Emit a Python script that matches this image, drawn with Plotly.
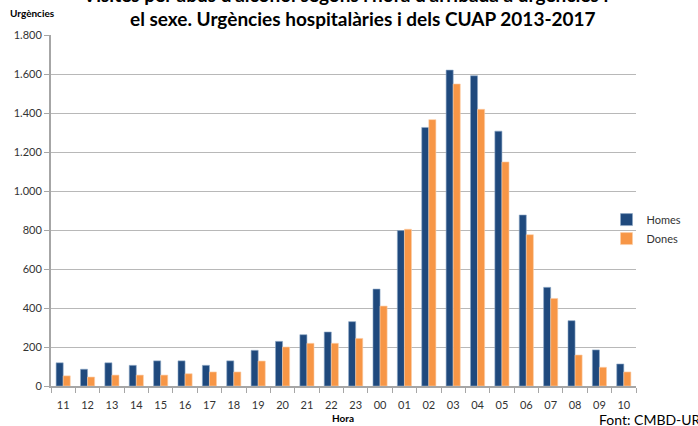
import plotly.graph_objects as go

hores = ["11", "12", "13", "14", "15", "16", "17", "18", "19", "20", "21", "22",
         "23", "00", "01", "02", "03", "04", "05", "06", "07", "08", "09", "10"]
homes = [119, 86, 119, 106, 129, 129, 106, 129, 183, 229, 263, 277,
         330, 497, 797, 1326, 1620, 1591, 1307, 877, 506, 335, 185, 113]
dones = [52, 46, 56, 56, 56, 63, 72, 72, 128, 200, 219, 219,
         244, 410, 804, 1366, 1549, 1419, 1149, 776, 449, 159, 96, 72]

font = "Lato, 'Open Sans', sans-serif"

fig = go.Figure()
fig.add_trace(go.Bar(x=hores, y=homes, name="Homes", marker=dict(color="#1F497D", line=dict(color="#8EA9C8", width=0.6))))
fig.add_trace(go.Bar(x=hores, y=dones, name="Dones", marker=dict(color="#F79646", line=dict(color="#FBCFA8", width=0.6))))

fig.update_layout(
    width=698, height=426,
    template="plotly_white",
    barmode="group", bargap=0.42, bargroupgap=0,
    separators=",.",
    font=dict(family=font, size=11, color="#333333"),
    margin=dict(l=51, r=61, t=35, b=40),
    plot_bgcolor="white", paper_bgcolor="white",
    showlegend=True,
    legend=dict(x=0.948, y=0.447, yanchor="middle", xanchor="left",
                font=dict(size=11, color="#333333"), itemwidth=30, tracegroupgap=4, bgcolor="rgba(0,0,0,0)"),
)
fig.update_yaxes(range=[0, 1800], dtick=200, tickformat=",d", showgrid=True, gridcolor="#b8b8b8", gridwidth=1.2,
                 showline=True, linecolor="#a6a6a6", linewidth=2, ticks="outside", ticklen=5, tickcolor="#a6a6a6",
                 zeroline=False, automargin=False)
fig.update_xaxes(showline=True, linecolor="#a6a6a6", linewidth=2, ticks="outside", tickson="boundaries",
                 ticklen=5, tickcolor="#a6a6a6", ticklabelstandoff=8, showgrid=False, automargin=False)

fig.add_annotation(text="Visites per abús d'alcohol segons l'hora d'arribada a urgències i",
                   xref="paper", yref="paper", x=0.502, y=1, yanchor="bottom", yshift=27, showarrow=False,
                   font=dict(family=font, size=19, color="#000000", weight="bold"))
fig.add_annotation(text="el sexe. Urgències hospitalàries i dels CUAP 2013-2017",
                   xref="paper", yref="paper", x=0.533, y=1, yanchor="bottom", yshift=3, showarrow=False,
                   font=dict(family=font, size=19, color="#000000", weight="bold"))
fig.add_annotation(text="<b>Urgències</b>", xref="paper", yref="paper", x=-0.073, y=1, xanchor="left", yanchor="bottom",
                   yshift=14, showarrow=False, font=dict(family=font, size=10, color="#000000"))
fig.add_annotation(text="<b>Hora</b>", xref="paper", yref="paper", x=0.499, y=0, yanchor="top", yshift=-24,
                   showarrow=False, font=dict(family=font, size=10, color="#000000"))
fig.add_annotation(text="Font: CMBD-UR", xref="paper", yref="paper", x=1.104, y=0, xanchor="right", yanchor="top",
                   xshift=6, yshift=-23, showarrow=False, font=dict(family=font, size=14, color="#000000"))

fig.write_html("out.html", config={"displayModeBar": False}, post_script="document.body.style.margin='0';")
